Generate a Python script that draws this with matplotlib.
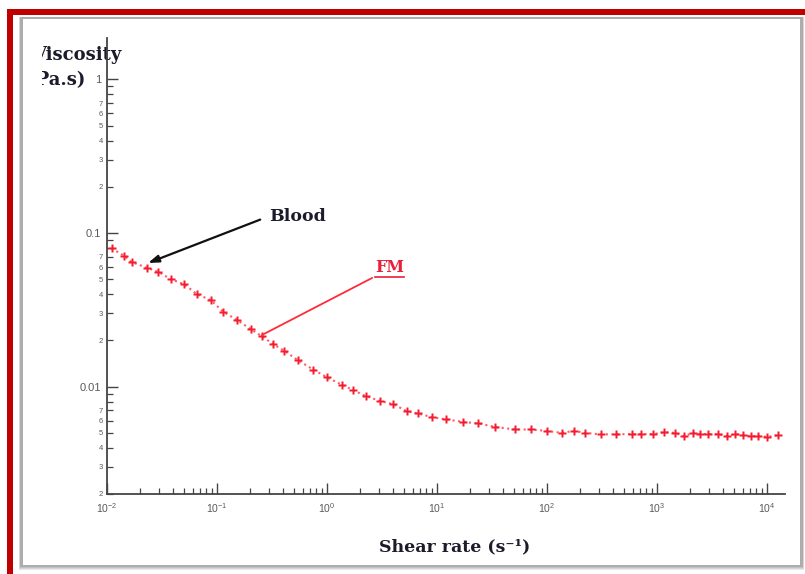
import math
import matplotlib
matplotlib.use("Agg")
import matplotlib.pyplot as plt
import matplotlib.ticker as mticker
from matplotlib.patches import Rectangle
from matplotlib.transforms import Bbox
from matplotlib.lines import Line2D
from matplotlib.text import Text

# Flow curve of the blood-mimicking fluid (FM): shear rate (1/s) vs viscosity (Pa.s)
shear_rate = [0.011, 0.0143, 0.0168, 0.0230, 0.0292, 0.0379, 0.0505, 0.0653, 0.0882,
              0.114, 0.153, 0.202, 0.258, 0.325, 0.409, 0.542, 0.750, 1.0, 1.36,
              1.73, 2.26, 3.03, 4.01, 5.34, 6.68, 9.01, 12.2, 17.1, 23.7, 33.6,
              51.2, 71.1, 99.4, 136, 176, 221, 310, 421, 589, 711, 925, 1165,
              1458, 1759, 2137, 2460, 2926, 3606, 4303, 5120, 6095, 7117, 8340,
              10070, 12680]
viscosity = [0.0795, 0.0711, 0.0647, 0.0594, 0.0560, 0.0501, 0.0464, 0.0401, 0.0365,
             0.0307, 0.0271, 0.0237, 0.0212, 0.0189, 0.0171, 0.0149, 0.0129, 0.0115,
             0.0103, 0.00948, 0.00867, 0.00807, 0.00769, 0.00691, 0.00669, 0.00633,
             0.00611, 0.00590, 0.00576, 0.00547, 0.00526, 0.00526, 0.00515, 0.00500,
             0.00515, 0.00500, 0.00489, 0.00489, 0.00491, 0.00491, 0.00491, 0.00504,
             0.00500, 0.00476, 0.00500, 0.00491, 0.00491, 0.00491, 0.00476, 0.00491,
             0.00483, 0.00476, 0.00476, 0.00471, 0.00483]

major_x = [1e-2, 1e-1, 1e0, 1e1, 1e2, 1e3, 1e4]
major_y = [0.01, 0.1, 1]
major_y_labels = ["0.01", "0.1", "1"]
minor_y_labelled = [2, 3, 4, 5, 6, 7]

blood_tip = (0.0236, 0.0638)
blood_text = (0.30, 0.129)
fm_tip = (0.257, 0.0217)
fm_text = (2.73, 0.0592)

plt.rcParams['mathtext.fontset'] = 'custom'
plt.rcParams['mathtext.rm'] = 'Liberation Sans'
plt.rcParams['mathtext.it'] = 'Liberation Sans:italic'
plt.rcParams['mathtext.bf'] = 'Liberation Sans:bold'
plt.rcParams['font.family'] = ['Liberation Sans', 'DejaVu Sans']

W, H = 805, 574
fig = plt.figure(figsize=(W / 100, H / 100), dpi=100)

# page background: red frame and a shadowed white panel
bg = fig.add_axes([0, 0, 1, 1], zorder=0)
bg.set_xlim(0, W)
bg.set_ylim(H, 0)
bg.axis('off')
bg.add_patch(Rectangle((7, 9), 6, H, color='#c00000', lw=0))
bg.add_patch(Rectangle((7, 9), W, 6, color='#c00000', lw=0))
for off, col in [(5, '#e8e8e8'), (4, '#d6d6d6'), (3, '#c2c2c2'), (2, '#adadad')]:
    bg.add_patch(Rectangle((21 - off * 0.4, 18 - off * 0.3), 781 + off * 0.8, 548 + off,
                           color=col, lw=0))
bg.add_patch(Rectangle((23, 19), 777, 546, color='white', lw=0))

text_dark = '#1b1b2b'
clip = Bbox.from_extents(42, 0, W, H)
for s, x, y in [("Viscosity", 121, 55), ("(Pa.s)", 86, 80)]:
    t = bg.text(x, y, s, ha='right', va='center', family='DejaVu Serif',
                fontweight='bold', fontsize=13, color=text_dark)
    t.set_clip_box(clip)
    t.set_clip_on(True)

bg.text(455, 547, "Shear rate (s\u207b\u00b9)", ha='center', va='center',
        family='DejaVu Serif', fontweight='bold', fontsize=12.5, color=text_dark)

# main log-log axes
ax = fig.add_axes([107 / W, (H - 494) / H, (785 - 107) / W, (494 - 38) / H], zorder=2)
ax.patch.set_alpha(0)
ax.set_xscale('log')
ax.set_yscale('log')
ax.set_xlim(0.01, 1.46e4)
ax.set_ylim(0.002, 1.86)
for side in ['top', 'right']:
    ax.spines[side].set_visible(False)
for side in ['left', 'bottom']:
    ax.spines[side].set_color('#444444')
    ax.spines[side].set_linewidth(1.3)

ax.plot(shear_rate, viscosity, ls=':', color='#ff5a6a', lw=1.5)
ax.plot(shear_rate, viscosity, ls='none', marker='P', ms=5.5, color='#f41c2e', mec='none')

ax.xaxis.set_major_locator(mticker.FixedLocator(major_x))
ax.xaxis.set_minor_locator(mticker.LogLocator(base=10, subs=range(2, 10), numticks=20))
ax.xaxis.set_major_formatter(mticker.LogFormatterSciNotation())
ax.xaxis.set_minor_formatter(mticker.NullFormatter())

ax.yaxis.set_major_locator(mticker.FixedLocator(major_y))
ax.yaxis.set_major_formatter(mticker.FixedFormatter(major_y_labels))
ax.yaxis.set_minor_locator(mticker.LogLocator(base=10, subs=range(2, 10), numticks=20))


def minor_label(v, pos):
    m = round(v / 10 ** math.floor(math.log10(v) + 1e-9))
    return str(m) if m in minor_y_labelled else ''


ax.yaxis.set_minor_formatter(mticker.FuncFormatter(minor_label))

ax.tick_params(which='both', direction='in', color='#444444', labelcolor='#5a5a5a')
ax.tick_params(which='major', length=8, width=1.0)
ax.tick_params(which='minor', length=4, width=0.9)
ax.tick_params(axis='x', which='major', labelsize=7.5, pad=5)
ax.tick_params(axis='y', which='major', labelsize=8, pad=4)
ax.tick_params(axis='y', which='minor', labelsize=5.5, pad=3)

ax.annotate("Blood", xy=blood_tip, xytext=blood_text, ha='left', va='center',
            family='DejaVu Serif', fontweight='bold', fontsize=12.5, color=text_dark,
            arrowprops=dict(arrowstyle='-|>,head_length=0.5,head_width=0.17',
                            color='#111111', lw=1.6, shrinkA=5, shrinkB=0,
                            relpos=(0, 0.5)))
fm = ax.annotate("FM", xy=fm_tip, xytext=fm_text, ha='left', va='center',
                 family='DejaVu Serif', fontweight='bold', fontsize=11.5, color='#e8203a',
                 arrowprops=dict(arrowstyle='-', color='#ff2a3a', lw=1.3, shrinkA=0,
                                 shrinkB=0, relpos=(0, 0)))

# underline the FM label (text box only, without its connector)
fig.canvas.draw()
bb = Text.get_window_extent(fm, fig.canvas.get_renderer())
uy = H - bb.y0 + 1
bg.add_line(Line2D([bb.x0, bb.x1], [uy, uy], color='#e8203a', lw=1.2))

fig.savefig("out.png", dpi=100)
